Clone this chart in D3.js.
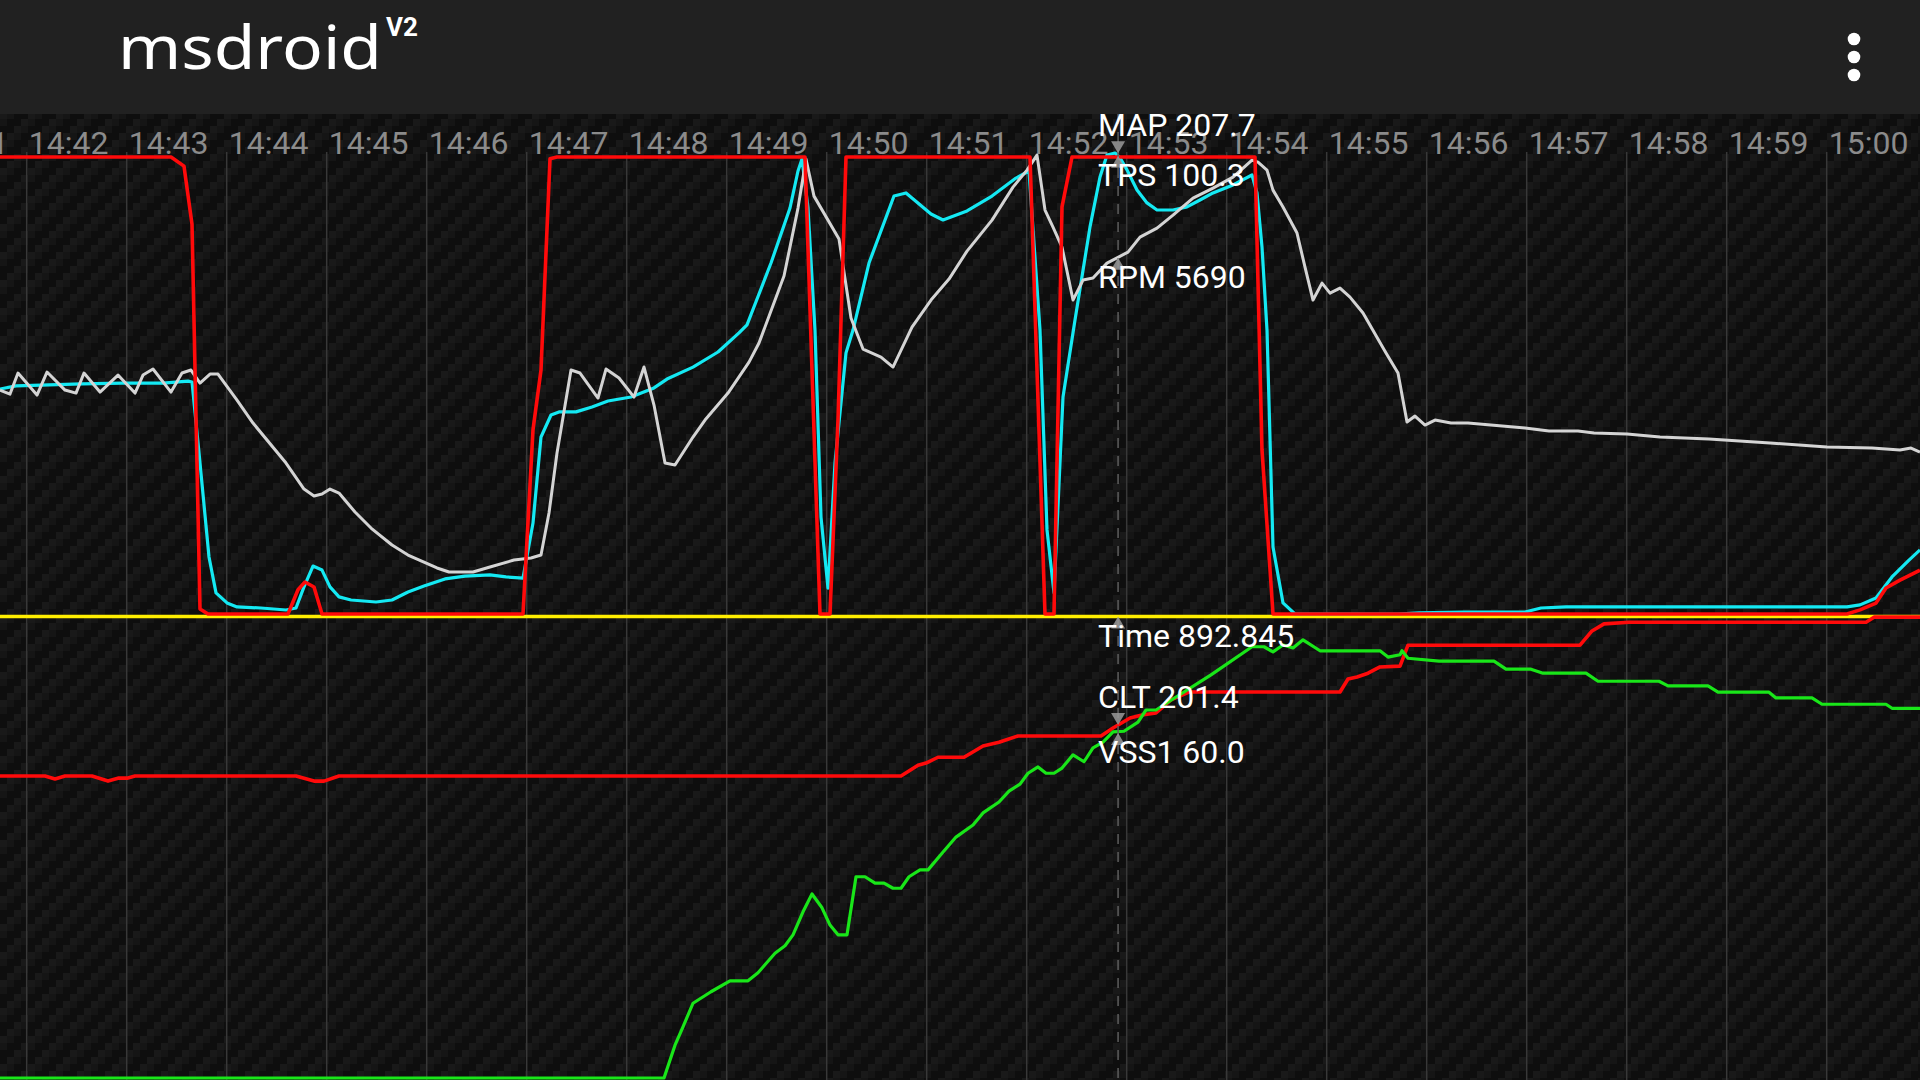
<!DOCTYPE html>
<html>
<head>
<meta charset="utf-8">
<script src="https://cdn.jsdelivr.net/npm/d3@7"></script>
<style>
  html, body { margin: 0; padding: 0; background: #111; overflow: hidden; }
  svg { display: block; font-family: Roboto, "Noto Sans", sans-serif; }
</style>
</head>
<body>
<svg id="chart" width="1920" height="1080"></svg>
<script>
// samples are [log time in seconds, value]
const tpsData = [[222,100],[324.6,100],[332.4,98],[337.2,85.3],[342,1.1],[346.8,0],[394.8,0],[400.8,5.3],[405,7],
  [410.4,5.9],[415.2,0],[535.8,0],[541.8,40.3],[546.6,53.4],[552,99.6],[556.2,100],[705,100],[714,0],[720,0],
  [724.8,42.5],[729.6,100],[840,100],[849,0],[854.4,0],[859.2,89.1],[865.2,100],[975,100],[979.2,35.9],[985.8,0],
  [1330.2,0],[1338,0.9],[1347.6,2.4],[1353.6,5.7],[1362,7.4],[1374,9.6]];

const mapData = [[222,101.4],[231.6,102.8],[246.6,103.2],[271.2,103.7],[295.2,104.1],[319.8,104.1],[334.8,105],
  [337.2,104.6],[342,68.1],[347.4,25.7],[351.6,9.5],[358.2,5],[364.2,3.2],[378.6,2.7],[393.6,1.8],[399.6,2.7],
  [404.4,12.2],[409.8,21.6],[415.2,19.8],[420,12.2],[425.4,7.7],[432.6,6.3],[447.6,5.4],[457.2,6.3],[466.8,9.9],
  [476.4,12.6],[489,15.8],[501,17.1],[516,17.6],[525.6,16.7],[535.8,16.2],[541.8,41],[546.6,79.8],[552.6,89.7],
  [557.4,91.1],[567.6,91.1],[577.2,93.3],[586.8,96],[600.6,97.8],[614.4,101.9],[622.2,105.9],[637.8,111.3],
  [652.8,118.1],[665.4,126.7],[670.2,130.3],[684.6,158.2],[696,183],[700.8,199.7],[703.2,205.1],[706.8,183],
  [711,128],[714.6,43.7],[718.8,11.7],[723,68.1],[729.6,117.7],[733.8,128],[743.4,158.2],[758.4,188.4],
  [765.6,189.8],[780.6,180.3],[787.8,177.6],[802.2,181.7],[817.2,188.4],[831.6,196.5],[839.4,199.7],[846,128],
  [850.2,37.9],[854.4,9.5],[859.8,97.8],[867,132.5],[876,174.5],[882,197],[886.2,206.9],[891,207.8],[894,205.6],
  [898.2,200.2],[904.2,191.1],[910.2,185.3],[916.2,182.1],[925.8,182.1],[934.2,183.5],[942,186.6],[949.8,189.8],
  [961.8,193.4],[973.2,197.9],[976.2,189.8],[979.2,165.4],[982.2,128],[985.8,30.2],[991.8,5],[999,0],[1060.8,0],
  [1073.4,0.5],[1100.4,0.9],[1137,0.9],[1146.6,2.7],[1161.6,3.2],[1330.2,3.2],[1338,4.1],[1347.6,7.2],
  [1357.2,16.7],[1367.4,24.3],[1374,28.9]];

const rpmData = [[222,3577],[228,3513],[232.8,3849],[244.2,3497],[250.2,3865],[261,3577],[267.6,3529],[272.4,3849],
  [282,3545],[292.8,3817],[303,3529],[307.8,3817],[313.8,3913],[324.6,3545],[331.2,3849],[336.6,3897],[342,3689],
  [348,3833],[352.8,3833],[364.2,3418],[373.8,3050],[393.6,2411],[404.4,1996],[410.4,1884],[415.2,1916],[420,1996],
  [425.4,1932],[435,1629],[444.6,1373],[457.2,1102],[466.8,942],[484.2,735],[491.4,671],[505.8,671],[516,751],
  [530.4,862],[540.6,894],[546.6,942],[551.4,1613],[556.2,2571],[564.6,3897],[570,3849],[580.8,3450],[585.6,3913],
  [593.4,3769],[602.4,3465],[608.4,3945],[614.4,3338],[621,2411],[627,2380],[637.8,2827],[645,3098],[658.8,3529],
  [671.4,4024],[677.4,4328],[692.4,5398],[700.8,6484],[705.6,7266],[710.4,6675],[725.4,5989],[732.6,4727],
  [739.8,4232],[750.6,4104],[757.8,3945],[769.2,4583],[780.6,5015],[791.4,5350],[802.2,5797],[817.2,6292],
  [829.8,6819],[838.2,7091],[844.2,7330],[849,6452],[853.8,6180],[859.2,5861],[865.8,5015],[871.8,5334],
  [877.8,5366],[886.2,5605],[898.8,5781],[906,6021],[916.2,6164],[925.8,6372],[937.8,6644],[949.8,6803],
  [961.8,6979],[973.2,7250],[976.8,7218],[982.2,7091],[985.8,6771],[991.8,6500],[1000.2,6085],[1005,5542],
  [1009.8,5015],[1015.2,5286],[1020,5126],[1026,5206],[1032,5062],[1039.8,4807],[1053.6,4168],[1060.8,3849],
  [1066.2,3066],[1071,3162],[1077,3018],[1083,3098],[1092.6,3050],[1102.8,3050],[1137,2970],[1151.4,2923],
  [1168.8,2923],[1178.4,2891],[1198.2,2875],[1218,2827],[1247.4,2795],[1284,2731],[1318.2,2667],[1345.2,2651],
  [1362,2619],[1368.6,2651],[1374,2587]];

const cltData = [[222,189.2],[249,189.2],[255,188.5],[261,189.2],[277.2,189.2],[286.8,188],[292.8,188.7],[298.2,188.7],
  [303,189.2],[399.6,189.2],[410.4,188],[416.4,188],[425.4,189.2],[762.6,189.2],[772.8,191.8],[777.6,192.3],
  [784.8,193.7],[800.4,193.7],[811.8,196.4],[821.4,197.3],[832.8,198.8],[882.6,198.8],[889.8,200.7],[900,203.1],
  [907.2,203.8],[915.6,204.3],[924.6,207.4],[935.4,209.3],[1026,209.3],[1030.8,212.4],[1036.2,212.9],
  [1042.8,213.8],[1050,215.3],[1062,215.5],[1066.8,220.5],[1170,220.5],[1177.2,223.9],[1184.4,225.6],
  [1199.4,226],[1341.6,226],[1346.4,227.2],[1374,227.2]];

const vssData = [[222,0],[620.4,0],[627,5.7],[631.8,8.9],[637.8,13],[648.6,15],[660,16.9],[670.8,16.9],[676.8,18.3],
  [687,21.7],[693,23],[697.8,24.9],[703.8,28.9],[709.2,32],[715.2,29.6],[720,26.6],[724.8,24.9],[730.2,24.9],
  [735.6,35],[741,35],[747,33.9],[752.4,33.9],[757.8,33],[762.6,33],[767.4,35],[774,36.2],[778.8,36.2],[787.2,39.1],
  [795.6,41.9],[805.8,44],[811.8,46.1],[821.4,48],[827.4,49.9],[834,51.1],[838.8,53],[844.8,54.1],[849.6,53],
  [854.4,53],[859.2,53.9],[865.8,56.2],[872.4,55],[877.8,57.4],[883.8,58.4],[889.8,60.2],[896.4,60.3],[904.8,61.9],
  [909.6,64],[915.6,64],[924.6,65.7],[948.6,70.1],[973.2,75],[980.4,75],[985.8,74.1],[991.8,75.3],[997.8,74.8],
  [1003.8,76.2],[1014,74.3],[1050,74.3],[1054.8,73.2],[1062,73.6],[1063.2,74.3],[1066.8,73],[1085.4,72.5],
  [1118.4,72.5],[1125.6,71.1],[1140.6,71.1],[1147.8,70.4],[1173.6,70.4],[1180.8,69],[1217.4,69],[1222.8,68.2],
  [1246.8,68.2],[1252.8,67.1],[1283.4,67.1],[1287.6,66.1],[1309.2,66.1],[1315.2,65],[1353.6,65],[1357.2,64.3],
  [1374,64.3]];

// cursor readout
const cursorTime = 892.845;
const readoutNames = ['MAP', 'TPS', 'RPM', 'Time', 'CLT', 'VSS1'];
const readoutValues = ['207.7', '100.3', '5690', '892.845', '201.4', '60.0'];

const logStart = new Date(2016, 5, 12, 14, 38, 1, 980);
const viewStart = 222, viewEnd = 1374;

function toDate(t) { return new Date(+logStart + t * 1000); }

var W = 1920, H = 1080, headerH = 114,
    upper = [614, 157], lower = [1078, 618], divider = 616.5;

let x = d3.scaleTime().domain([toDate(viewStart), toDate(viewEnd)]).range([0, W]);
let yTps = d3.scaleLinear().domain([0, 100]).range(upper);
let yMap = d3.scaleLinear().domain([0, 206]).range(upper);
let yRpm = d3.scaleLinear().domain([0, 7300]).range(upper);
let yClt = d3.scaleLinear().domain([117, 227]).range(lower);
let yVss = d3.scaleLinear().domain([0, 80]).range(lower);

let svg = d3.select('#chart');

// carbon fibre background
let defs = svg.append('defs');
let pat = defs.append('pattern')
    .attr('id', 'carbon')
    .attr('patternUnits', 'userSpaceOnUse')
    .attr('width', 28).attr('height', 28);
pat.append('rect').attr('width', 28).attr('height', 28).attr('fill', '#0e0e0e');
d3.range(16).forEach(function(k) {
    let c = k % 4, r = Math.floor(k / 4);
    if ((c + r) % 4 < 2) {
	pat.append('rect')
	    .attr('x', c * 7).attr('y', r * 7)
	    .attr('width', 7).attr('height', 7)
	    .attr('fill', (c + r) % 4 == 0 ? '#191919' : '#151515');
    }
});

svg.append('rect')
    .attr('y', headerH).attr('width', W).attr('height', H - headerH)
    .attr('fill', 'url(#carbon)');

// minute grid + labels
let minutes = d3.timeMinute.range(d3.timeMinute.floor(x.domain()[0]), x.domain()[1]);
let fmt = d3.timeFormat('%H:%M');

svg.append('g').selectAll('line')
    .data(minutes).join('line')
    .attr('x1', d => x(d)).attr('x2', d => x(d))
    .attr('y1', 152).attr('y2', H)
    .attr('stroke', '#383838').attr('stroke-width', 1.5);

svg.append('g').selectAll('text')
    .data(minutes).join('text')
    .attr('x', d => x(d) + 2).attr('y', 154)
    .attr('fill', '#8b8b8b').attr('font-size', 32)
    .text(fmt);

// panel divider
svg.append('line')
    .attr('x1', 0).attr('x2', W).attr('y1', divider).attr('y2', divider)
    .attr('stroke', '#ffee00').attr('stroke-width', 3.5);

function drawSeries(data, yScale, colour, w) {
    let line = d3.line()
	.x(d => x(toDate(d[0])))
	.y(d => yScale(d[1]));
    svg.append('path')
	.datum(data)
	.attr('d', line)
	.attr('fill', 'none')
	.attr('stroke', colour)
	.attr('stroke-width', w)
	.attr('stroke-linejoin', 'round');
}

drawSeries(mapData, yMap, '#14e9f3', 3.2);
drawSeries(rpmData, yRpm, '#d4d4d4', 3);
drawSeries(tpsData, yTps, '#ff0a0a', 3.6);
drawSeries(cltData, yClt, '#ff0a0a', 3.6);
drawSeries(vssData, yVss, '#19e619', 3.2);

// cursor
let cx = x(toDate(cursorTime));
svg.append('line')
    .attr('x1', cx).attr('x2', cx).attr('y1', headerH).attr('y2', H)
    .attr('stroke', '#5e5e5e').attr('stroke-width', 1.5)
    .attr('stroke-dasharray', '10,8');

let scaleFor = { MAP: yMap, TPS: yTps, RPM: yRpm, CLT: yClt, VSS1: yVss };
let above = { MAP: true, CLT: true };
let g = svg.append('g');
readoutNames.forEach(function(name, i) {
    let val = readoutValues[i];
    let ty = name == 'Time' ? divider : scaleFor[name](+val);
    let up = above[name] ? -1 : 1;
    g.append('path')
	.attr('d', 'M' + cx + ',' + ty + 'L' + (cx - 7) + ',' + (ty + up * 12) + 'L' + (cx + 7) + ',' + (ty + up * 12) + 'Z')
	.attr('fill', '#9a9a9a').attr('opacity', 0.85);
    g.append('text')
	.attr('x', cx - 20)
	.attr('y', above[name] ? ty - 17 : ty + 30)
	.attr('fill', '#fff').attr('font-size', 32)
	.text(name + ' ' + val);
});

// header bar
let head = svg.append('g');
head.append('rect').attr('width', W).attr('height', headerH).attr('fill', '#212121');
head.append('text')
    .attr('x', 118).attr('y', 69)
    .attr('fill', '#fff').attr('font-size', 60)
    .attr('font-family', '"Noto Sans", sans-serif')
    .attr('textLength', 264).attr('lengthAdjust', 'spacingAndGlyphs')
    .text('msdroid');
head.append('text')
    .attr('x', 386).attr('y', 36)
    .attr('fill', '#fff').attr('font-size', 26).attr('font-weight', 'bold')
    .text('V2');
head.selectAll('circle')
    .data([39, 57, 75]).join('circle')
    .attr('cx', 1854).attr('cy', d => d).attr('r', 6.3)
    .attr('fill', '#fff');
</script>
</body>
</html>
